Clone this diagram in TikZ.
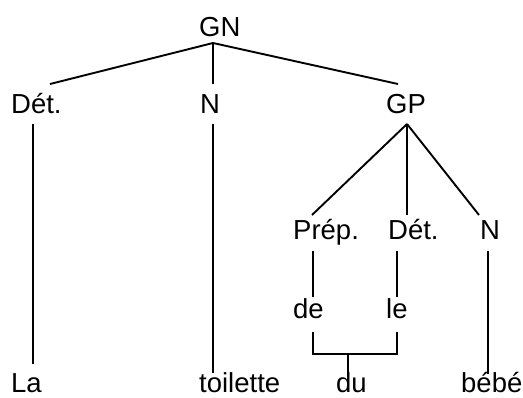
\documentclass[tikz,border=0pt]{standalone}
\usepackage{fontspec}
\setmainfont{Liberation Sans}
\begin{document}
\begin{tikzpicture}[x=1pt,y=-1pt,
  lbl/.style={anchor=base west,inner sep=0pt,font=\fontsize{27.5}{32}\selectfont},
  edge/.style={line width=1.9pt,black}]
\useasboundingbox (0,0) rectangle (523,397);
% labels
\node[lbl] (GN)    at (199,36)  {GN};
\node[lbl] (Det)   at (11,113)  {Dét.};
\node[lbl] (N)     at (200,113) {N};
\node[lbl] (GP)    at (386,113) {GP};
\node[lbl] (Prep)  at (293,239) {Prép.};
\node[lbl] (Det2)  at (388,239) {Dét.};
\node[lbl] (N2)    at (480,239) {N};
\node[lbl] (de)    at (293,318) {de};
\node[lbl] (le)    at (386,318) {le};
\node[lbl] (La)    at (11,392.5)  {La};
\node[lbl] (toil)  at (199,392.5) {toilette};
\node[lbl] (du)    at (336,392.5) {du};
\node[lbl] (bebe)  at (461,392.5) {bébé};
% connector end points
\coordinate (GNs)   at (213,43);
\coordinate (DetT)  at (50,84);
\coordinate (NT)    at (213,84);
\coordinate (GPT)   at (398,84);
\coordinate (DetB)  at (33,124);
\coordinate (LaT)   at (33,364);
\coordinate (NB)    at (213,124);
\coordinate (toilT) at (213,373);
\coordinate (GPB)   at (407,124);
\coordinate (PrepT) at (312,215);
\coordinate (Det2T) at (407,215);
\coordinate (N2T)   at (479,215);
\coordinate (PrepB) at (313,251);
\coordinate (deT)   at (313,297);
\coordinate (Det2B) at (397,251);
\coordinate (leT)   at (397,297);
\coordinate (deB)   at (313,332);
\coordinate (leB)   at (397,332);
\coordinate (join)  at (348,354);
\coordinate (duT)   at (348,377);
\coordinate (N2B)   at (488,251);
\coordinate (bebeT) at (488,374);
% connectors
\draw[edge] (GNs) -- (DetT);
\draw[edge] (GNs) -- (NT);
\draw[edge] (GNs) -- (GPT);
\draw[edge] (DetB) -- (LaT);
\draw[edge] (NB) -- (toilT);
\draw[edge] (GPB) -- (PrepT);
\draw[edge] (GPB) -- (Det2T);
\draw[edge] (GPB) -- (N2T);
\draw[edge] (PrepB) -- (deT);
\draw[edge] (Det2B) -- (leT);
\draw[edge] (deB) |- (join) -| (leB);
\draw[edge] (join) -- (duT);
\draw[edge] (N2B) -- (bebeT);
\end{tikzpicture}
\end{document}
